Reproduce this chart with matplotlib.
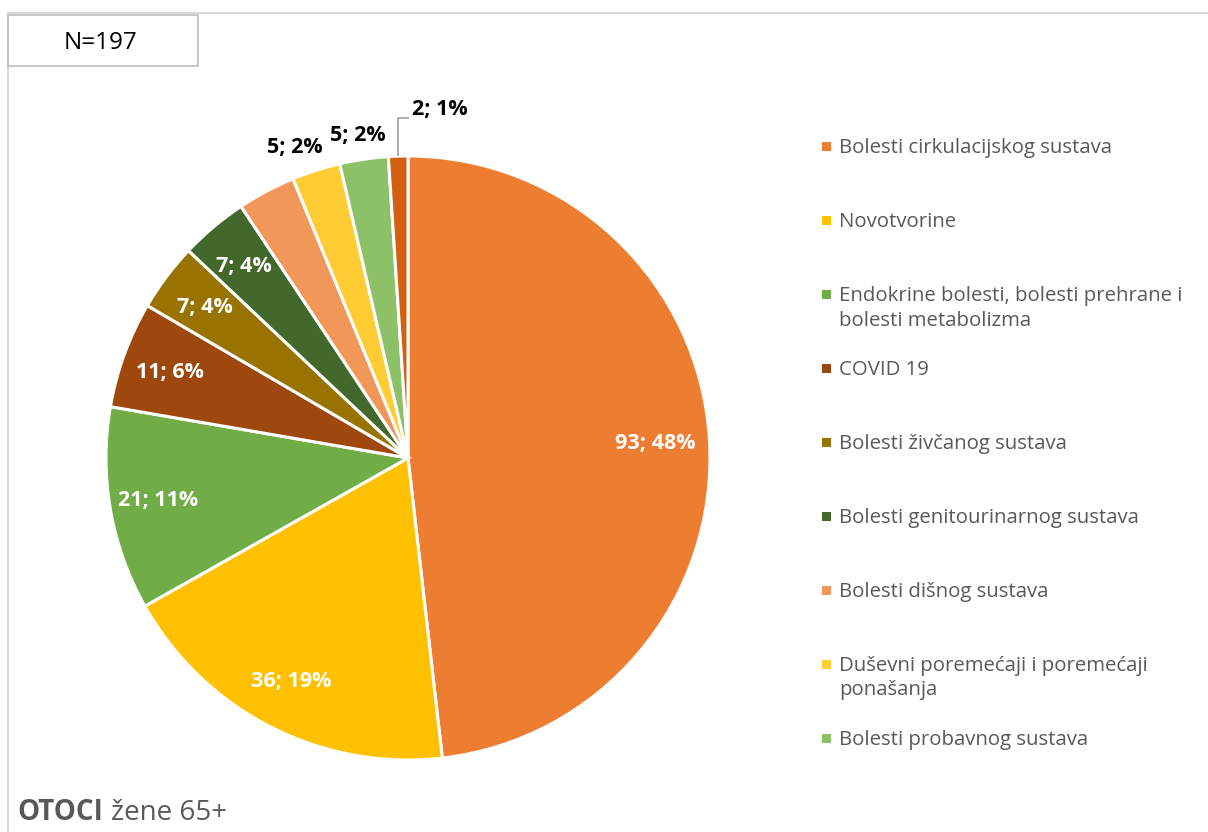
import matplotlib
matplotlib.use("Agg")
import matplotlib.pyplot as plt
from matplotlib.patches import Rectangle
import numpy as np

plt.rcParams['font.family'] = ['Open Sans', 'DejaVu Sans']

categories = [
    "Bolesti cirkulacijskog sustava",
    "Novotvorine",
    "Endokrine bolesti, bolesti prehrane i\nbolesti metabolizma",
    "COVID 19",
    "Bolesti živčanog sustava",
    "Bolesti genitourinarnog sustava",
    "Bolesti dišnog sustava",
    "Duševni poremećaji i poremećaji\nponašanja",
    "Bolesti probavnog sustava",
    "Ostalo",
]
counts = [93, 36, 21, 11, 7, 7, 6, 5, 5, 2]
percents = [48, 19, 11, 6, 4, 4, 3, 2, 2, 1]
show_label = [True, True, True, True, True, True, False, True, True, True]
colors = ["#ED7D31", "#FFC000", "#70AD47", "#9E480E", "#997300",
          "#43682B", "#F1975A", "#FFCD33", "#8CC168", "#D26012"]
n_total = "N=197"
legend_count = 9

W, H = 1208, 832
fig = plt.figure(figsize=(W / 100, H / 100), dpi=100)

# outer frame
fig.patches.append(Rectangle((8 / W, -0.1), 1.2, 1 - 13 / H + 0.1, transform=fig.transFigure,
                             fill=False, edgecolor="#D9D9D9", linewidth=1.5))
# N box
fig.patches.append(Rectangle((8 / W, 1 - 66 / H), 190 / W, 51 / H, transform=fig.transFigure,
                             facecolor="white", edgecolor="#BFBFBF", linewidth=1.2))
fig.text(101 / W, 1 - 43 / H, n_total, ha="center", va="center", fontsize=17.5, color="black")

# pie
cx, cy, R = 408, 458, 302
ax = fig.add_axes([(cx - R) / W, (H - cy - R) / H, 2 * R / W, 2 * R / H])
wedges, _ = ax.pie(counts, colors=colors, startangle=90, counterclock=False, radius=1,
                   wedgeprops=dict(edgecolor="white", linewidth=2.2))
ax.set_xlim(-1, 1)
ax.set_ylim(-1, 1)
ax.set_aspect("auto")
ax.axis("off")

lab_fs = 15.5
outside_shift = {7: -14, 8: -3}
for i, w in enumerate(wedges):
    if not show_label[i]:
        continue
    lab = f"{counts[i]}; {percents[i]}%"
    mid = np.deg2rad((w.theta1 + w.theta2) / 2)
    if i == len(wedges) - 1:
        # leader line label
        ex, ey = np.cos(mid) * 1.005, np.sin(mid) * 1.005
        lx = ex
        ly = (458 - 118) / R
        ax.plot([ex, lx, lx + 10 / R], [ey, ly, ly], color="#A6A6A6", lw=1.3, clip_on=False)
        ax.text(lx + 14 / R, ly + 9 / R, lab, ha="left", va="center", fontsize=lab_fs,
                fontweight="bold", color="black")
    elif counts[i] / sum(counts) < 0.03:
        r = 1.08
        ax.text(r * np.cos(mid) + outside_shift.get(i, 0) / R, r * np.sin(mid), lab,
                ha="center", va="center", fontsize=lab_fs, fontweight="bold", color="black")
    else:
        r = 0.83
        ax.text(r * np.cos(mid) - 3 / R, r * np.sin(mid), lab, ha="center", va="center",
                fontsize=lab_fs, fontweight="bold", color="white")

# legend (manual, Excel-like first-line alignment)
y0, dy = 147, 74
for i in range(legend_count):
    y = y0 + i * dy
    fig.patches.append(Rectangle((822 / W, 1 - (y + 4) / H), 9 / W, 9 / H,
                                 transform=fig.transFigure, facecolor=colors[i], edgecolor="none"))
    fig.text(839 / W, 1 - (y - 9) / H, categories[i], ha="left", va="top", fontsize=14.7,
             color="#595959", linespacing=1.3)

# footer
t1 = fig.text(17 / W, 1 - 813 / H, "OTOCI", ha="left", va="center", fontsize=20,
              fontweight="bold", color="#595959")
fig.canvas.draw()
bb = t1.get_window_extent()
fig.text((bb.x1 + 8) / W, 1 - 813 / H, "žene 65+", ha="left", va="center", fontsize=20,
         color="#595959")

fig.savefig("out.png", dpi=100)
